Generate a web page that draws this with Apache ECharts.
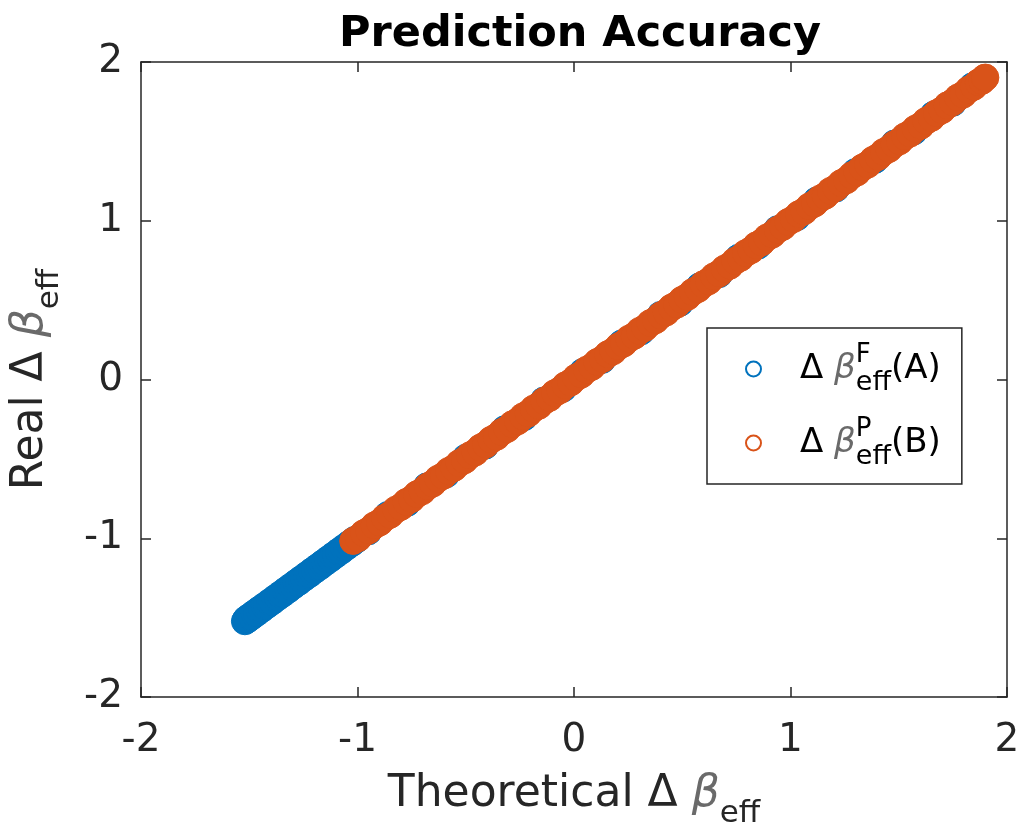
<!DOCTYPE html>
<html>
<head>
<meta charset="utf-8">
<script src="https://cdn.jsdelivr.net/npm/echarts@6/dist/echarts.min.js"></script>
<style>
  html, body { margin: 0; padding: 0; background: #fff; }
  #chart { width: 1023px; height: 828px; }
</style>
</head>
<body>
<div id="chart"></div>
<script>
// Theoretical vs. real Δβ_eff for the two cases (A) and (B)
const theoreticalA = [
  -1.520,-1.514,-1.507,-1.498,-1.488,-1.477,-1.466,-1.454,-1.442,-1.430,
  -1.418,-1.406,-1.394,-1.381,-1.369,-1.357,-1.345,-1.332,-1.320,-1.308,
  -1.296,-1.283,-1.271,-1.259,-1.247,-1.234,-1.222,-1.210,-1.198,-1.185,
  -1.173,-1.161,-1.149,-1.136,-1.124,-1.112,-1.100,-1.087,-1.075,-1.063,
  -1.051,-1.038,-1.026,-1.014,-1.004,
  -0.95,-0.86,-0.77,-0.68,-0.59,-0.50,-0.41,-0.32,-0.23,-0.14,-0.05,0.04,
  0.13,0.22,0.31,0.40,0.49,0.58,0.67,0.76,0.85,0.94,1.03,1.12,1.21,1.30,
  1.39,1.48,1.57,1.66,1.75,1.84
];
const realA = [
  -1.523,-1.510,-1.511,-1.494,-1.492,-1.473,-1.470,-1.450,-1.446,-1.427,
  -1.421,-1.403,-1.398,-1.378,-1.372,-1.354,-1.349,-1.329,-1.324,-1.305,
  -1.299,-1.280,-1.275,-1.256,-1.250,-1.231,-1.226,-1.207,-1.201,-1.182,
  -1.177,-1.158,-1.152,-1.133,-1.128,-1.109,-1.103,-1.084,-1.079,-1.060,
  -1.054,-1.035,-1.030,-1.011,-1.007,
  -0.957,-0.853,-0.777,-0.673,-0.597,-0.493,-0.417,-0.313,-0.237,-0.133,-0.057,0.047,
  0.123,0.227,0.303,0.407,0.483,0.587,0.663,0.767,0.843,0.947,1.023,1.127,1.203,1.307,
  1.383,1.487,1.563,1.667,1.743,1.847
];
const theoreticalB = [
  -1.020,-0.996,-0.971,-0.948,-0.922,-0.897,-0.874,-0.849,-0.823,-0.799,
  -0.775,-0.750,-0.726,-0.701,-0.677,-0.652,-0.628,-0.603,-0.579,-0.554,
  -0.530,-0.505,-0.481,-0.456,-0.432,-0.407,-0.383,-0.358,-0.334,-0.309,
  -0.285,-0.260,-0.236,-0.211,-0.187,-0.162,-0.138,-0.113,-0.089,-0.064,
  -0.040,-0.015,0.009,0.034,0.058,0.083,0.107,0.132,0.156,0.181,
  0.205,0.230,0.254,0.279,0.303,0.328,0.352,0.377,0.401,0.426,
  0.450,0.475,0.499,0.524,0.548,0.573,0.597,0.622,0.646,0.671,
  0.695,0.720,0.744,0.769,0.793,0.818,0.842,0.867,0.891,0.916,
  0.940,0.965,0.989,1.014,1.038,1.063,1.087,1.112,1.136,1.161,
  1.185,1.210,1.234,1.259,1.283,1.308,1.332,1.357,1.381,1.406,
  1.430,1.455,1.479,1.504,1.528,1.553,1.577,1.602,1.626,1.651,
  1.675,1.700,1.724,1.749,1.773,1.798,1.822,1.847,1.868,1.884,
  1.896,1.900
];
const realB = [
  -1.017,-0.999,-0.968,-0.951,-0.919,-0.900,-0.871,-0.852,-0.820,-0.802,
  -0.772,-0.753,-0.723,-0.704,-0.674,-0.655,-0.625,-0.606,-0.576,-0.557,
  -0.527,-0.508,-0.478,-0.459,-0.429,-0.410,-0.380,-0.361,-0.331,-0.312,
  -0.282,-0.263,-0.233,-0.214,-0.184,-0.165,-0.135,-0.116,-0.086,-0.067,
  -0.037,-0.018,0.012,0.031,0.061,0.080,0.110,0.129,0.159,0.178,
  0.208,0.227,0.257,0.276,0.306,0.325,0.355,0.374,0.404,0.423,
  0.453,0.472,0.502,0.521,0.551,0.570,0.600,0.619,0.649,0.668,
  0.698,0.717,0.747,0.766,0.796,0.815,0.845,0.864,0.894,0.913,
  0.943,0.962,0.992,1.011,1.041,1.060,1.090,1.109,1.139,1.158,
  1.188,1.207,1.237,1.256,1.286,1.305,1.335,1.354,1.384,1.403,
  1.433,1.452,1.482,1.501,1.531,1.550,1.580,1.599,1.629,1.648,
  1.678,1.697,1.727,1.746,1.776,1.795,1.825,1.844,1.871,1.881,
  1.899,1.902
];

const seriesNames = ['A', 'B'];
const superscripts = { A: 'F', B: 'P' };
const titleText = 'Prediction Accuracy';
const axisMin = -2, axisMax = 2, axisStep = 1;

const BLUE = '#0072BD';
const ORANGE = '#D95319';
const INK = '#262626';
const FONT = 'DejaVu Sans';

function zip(xs, ys) {
  const n = Math.min(xs.length, ys.length);
  const out = [];
  for (let i = 0; i < n; i++) out.push([xs[i], ys[i]]);
  return out;
}

const tickLabel = { color: INK, fontFamily: FONT, fontSize: 39 };
const boxLine = { show: true, onZero: false, lineStyle: { color: INK, width: 1.5 } };
const innerTick = { show: true, inside: true, length: 10, lineStyle: { color: INK, width: 1.5 } };

function valueAxis(extra) {
  return Object.assign({
    type: 'value', min: axisMin, max: axisMax, interval: axisStep,
    axisLine: boxLine, axisTick: innerTick, splitLine: { show: false }
  }, extra);
}

const nameRich = {
  a: { fontFamily: FONT, fontSize: 44, color: INK, lineHeight: 56, verticalAlign: 'top' },
  b: { fontFamily: FONT, fontSize: 44, fontStyle: 'italic', color: '#6a6a6a', lineHeight: 56, verticalAlign: 'top' },
  c: { fontFamily: FONT, fontSize: 31, color: INK, lineHeight: 36, verticalAlign: 'bottom' }
};

const chart = echarts.init(document.getElementById('chart'), null, { renderer: 'canvas' });

chart.setOption({
  animation: false,
  backgroundColor: '#fff',
  title: {
    text: titleText, left: 575, top: 8, textAlign: 'center',
    textStyle: { fontFamily: FONT, fontWeight: 'bold', fontSize: 43, color: '#000' }
  },
  grid: { left: 141, right: 16, top: 62, bottom: 131, containLabel: false, outerBoundsMode: 'none' },
  xAxis: [
    valueAxis({
      position: 'bottom',
      axisLabel: Object.assign({ margin: 24 }, tickLabel),
      name: '{a|Theoretical Δ }{b|β}{c|eff}',
      nameLocation: 'middle', nameGap: 76,
      nameTextStyle: { rich: nameRich }
    }),
    valueAxis({ position: 'top', axisLabel: { show: false } })
  ],
  yAxis: [
    valueAxis({
      position: 'left',
      axisLabel: Object.assign({ margin: 18 }, tickLabel),
      name: '{a|Real Δ }{b|β}{c|eff}',
      nameLocation: 'middle', nameGap: 76,
      nameTextStyle: { rich: nameRich }
    }),
    valueAxis({ position: 'right', axisLabel: { show: false } })
  ],
  legend: {
    orient: 'vertical', left: 707, top: 328,
    padding: [14, 21, 14, 38],
    itemGap: 20, itemWidth: 15, itemHeight: 15,
    backgroundColor: '#fff', borderColor: INK, borderWidth: 1.5, borderRadius: 0,
    icon: 'circle',
    data: [
      { name: 'A', itemStyle: { color: '#fff', borderColor: BLUE, borderWidth: 2 } },
      { name: 'B', itemStyle: { color: '#fff', borderColor: ORANGE, borderWidth: 2 } }
    ],
    formatter: name => `{sp|}{d|Δ }{b|β}{sup|${superscripts[name]}}{sub|eff}{t|(${name})}`,
    textStyle: {
      rich: {
        sp: { width: 34, lineHeight: 54 },
        d: { fontFamily: FONT, fontSize: 34, color: '#000', lineHeight: 54 },
        b: { fontFamily: FONT, fontSize: 34, fontStyle: 'italic', color: '#6a6a6a', lineHeight: 54 },
        sup: { fontFamily: FONT, fontSize: 26, color: '#000', width: 0, lineHeight: 28, verticalAlign: 'top' },
        sub: { fontFamily: FONT, fontSize: 27, color: '#000', lineHeight: 28, verticalAlign: 'bottom' },
        t: { fontFamily: FONT, fontSize: 34, color: '#000', lineHeight: 54 }
      }
    }
  },
  series: [
    {
      name: seriesNames[0], type: 'scatter', xAxisIndex: 0, yAxisIndex: 0,
      symbol: 'circle', symbolSize: 27,
      itemStyle: { color: BLUE, borderColor: BLUE, borderWidth: 1, opacity: 1 },
      data: zip(theoreticalA, realA)
    },
    {
      name: seriesNames[1], type: 'scatter', xAxisIndex: 0, yAxisIndex: 0,
      symbol: 'circle', symbolSize: 27,
      itemStyle: { color: ORANGE, borderColor: ORANGE, borderWidth: 1, opacity: 1 },
      data: zip(theoreticalB, realB)
    }
  ]
});
</script>
</body>
</html>
